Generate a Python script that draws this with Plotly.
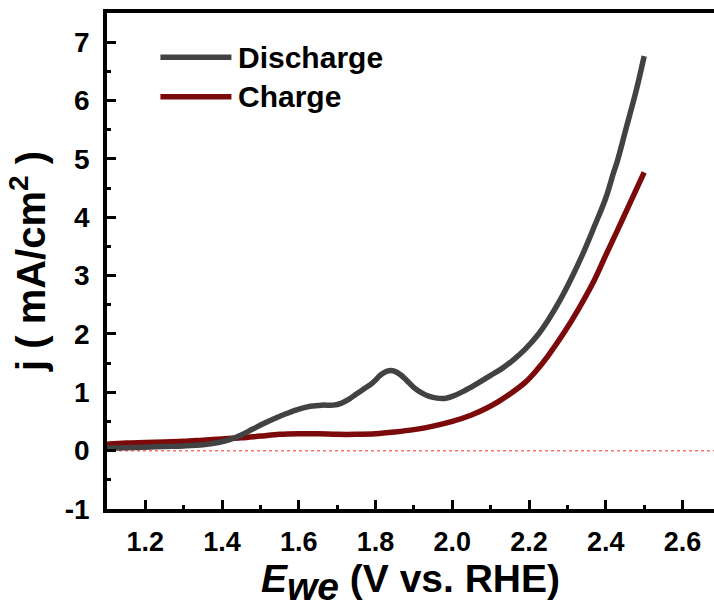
import plotly.graph_objects as go

# Discharge curve (E vs RHE, j in mA/cm2)
discharge_x = [1.10, 1.15, 1.20, 1.25, 1.30, 1.35, 1.39, 1.42, 1.45, 1.48, 1.51, 1.54, 1.57, 1.60,
               1.63, 1.66, 1.69, 1.71, 1.73, 1.75, 1.77, 1.79, 1.80, 1.81, 1.82, 1.835, 1.85,
               1.865, 1.88, 1.90, 1.92, 1.94, 1.96, 1.98, 2.00, 2.03, 2.06, 2.10, 2.13, 2.16, 2.19,
               2.22, 2.25, 2.28, 2.31, 2.34, 2.37, 2.40, 2.42, 2.43, 2.45, 2.48, 2.50]
discharge_y = [0.04, 0.05, 0.06, 0.07, 0.08, 0.10, 0.14, 0.19, 0.27, 0.37, 0.47, 0.56, 0.64, 0.71,
               0.76, 0.78, 0.78, 0.81, 0.88, 0.97, 1.06, 1.15, 1.21, 1.28, 1.33, 1.37, 1.36,
               1.30, 1.21, 1.08, 0.99, 0.93, 0.90, 0.895, 0.93, 1.02, 1.13, 1.29, 1.41, 1.56, 1.74,
               1.96, 2.24, 2.57, 2.95, 3.37, 3.84, 4.33, 4.76, 4.96, 5.45, 6.19, 6.76]

# Charge curve
charge_x = [1.10, 1.15, 1.20, 1.25, 1.30, 1.35, 1.40, 1.45, 1.50, 1.55, 1.60, 1.65, 1.70, 1.75,
            1.80, 1.85, 1.90, 1.95, 2.00, 2.05, 2.09, 2.12, 2.15, 2.19, 2.22, 2.25, 2.29, 2.33,
            2.37, 2.40, 2.43, 2.46, 2.50]
charge_y = [0.11, 0.13, 0.14, 0.15, 0.16, 0.18, 0.20, 0.22, 0.25, 0.28, 0.29, 0.29, 0.28, 0.28,
            0.29, 0.32, 0.36, 0.42, 0.50, 0.61, 0.73, 0.84, 0.97, 1.17, 1.38, 1.63, 2.01, 2.44,
            2.92, 3.35, 3.77, 4.20, 4.77]

series_names = ["Discharge", "Charge"]
series_colors = ["#424242", "#7d0a0a"]

x_ticks = [1.2, 1.4, 1.6, 1.8, 2.0, 2.2, 2.4, 2.6]
x_tick_labels = ["1.2", "1.4", "1.6", "1.8", "2.0", "2.2", "2.4", "2.6"]
y_ticks = [-1, 0, 1, 2, 3, 4, 5, 6, 7]
y_tick_labels = ["-1", "0", "1", "2", "3", "4", "5", "6", "7"]

FONT = "Liberation Sans, Arial, sans-serif"

fig = go.Figure()
fig.add_trace(go.Scatter(x=charge_x, y=charge_y, mode="lines", name=series_names[1],
                         line=dict(color=series_colors[1], width=5.5, shape="spline", smoothing=1.0),
                         showlegend=False))
fig.add_trace(go.Scatter(x=discharge_x, y=discharge_y, mode="lines", name=series_names[0],
                         line=dict(color=series_colors[0], width=5.5, shape="spline", smoothing=1.0),
                         showlegend=False))

# zero reference line
fig.add_shape(type="line", xref="paper", x0=0, x1=1, yref="y", y0=0, y1=0,
              line=dict(color="#ff7070", width=1.5, dash="dot"), layer="below")

# manual legend
legend_y = [0.911, 0.831]
for name, color, ly in zip(series_names, series_colors, legend_y):
    fig.add_shape(type="line", xref="paper", yref="paper", x0=0.088, x1=0.205, y0=ly, y1=ly,
                  line=dict(color=color, width=5.5))
    fig.add_annotation(xref="paper", yref="paper", x=0.213, y=ly, text=name, showarrow=False,
                       xanchor="left", yanchor="middle",
                       font=dict(family=FONT, size=30, color="black", weight="bold"))

fig.update_layout(
    width=714, height=612,
    margin=dict(l=107, r=0, t=13, b=103, autoexpand=False),
    paper_bgcolor="white", plot_bgcolor="white",
    font=dict(family=FONT, color="black", weight="bold"),
    xaxis=dict(range=[1.1, 2.682], tickvals=x_ticks, ticktext=x_tick_labels,
               ticks="inside", ticklen=9, tickwidth=3, tickcolor="black",
               minor=dict(dtick=0.1, tick0=1.1, ticks="inside", ticklen=4, tickwidth=3, tickcolor="black"),
               showline=True, linewidth=3.5, linecolor="black", mirror=True,
               showgrid=False, zeroline=False,
               tickfont=dict(family=FONT, size=27, color="black", weight="bold"),
               ticklabelstandoff=6,
               title=dict(text="<i>E</i><sub><i><span style=\"font-size:39px\">we</span></i></sub> (V vs. RHE)",
                          font=dict(family=FONT, size=39, color="black", weight="bold"), standoff=8)),
    yaxis=dict(range=[-1, 7.5], tickvals=y_ticks, ticktext=y_tick_labels,
               ticks="inside", ticklen=9, tickwidth=3, tickcolor="black",
               minor=dict(dtick=0.5, tick0=-1, ticks="inside", ticklen=4, tickwidth=3, tickcolor="black"),
               showline=True, linewidth=3.5, linecolor="black", mirror=False,
               showgrid=False, zeroline=False,
               tickfont=dict(family=FONT, size=28, color="black", weight="bold"),
               ticklabelstandoff=8,
               title=dict(text="j ( mA/cm<sup>2</sup> )",
                          font=dict(family=FONT, size=40, color="black", weight="bold"), standoff=8)),
)

fig.write_html("out.html")
